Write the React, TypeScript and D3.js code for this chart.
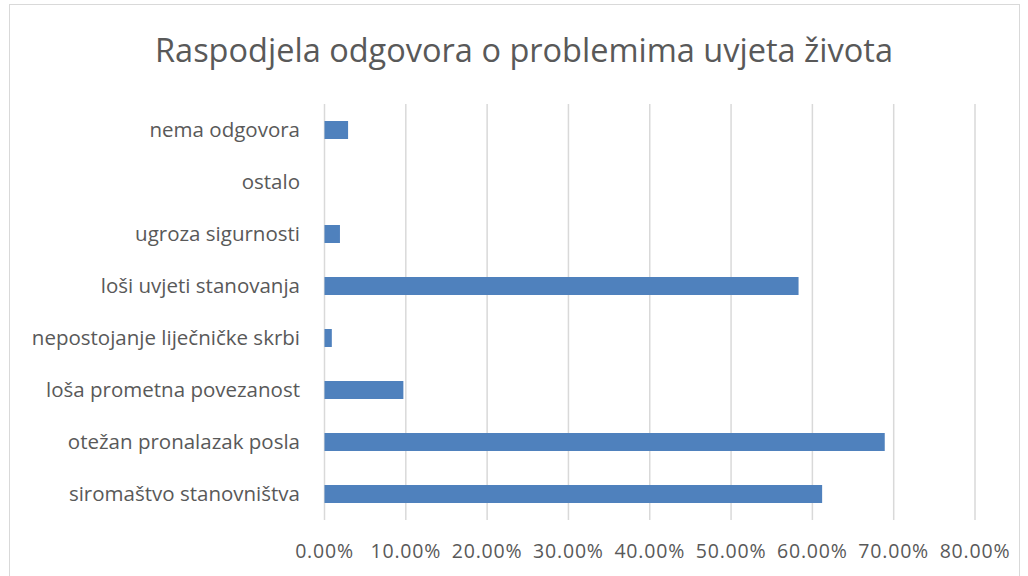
import React from "react";
import * as d3 from "d3";

const categories = [
  "nema odgovora",
  "ostalo",
  "ugroza sigurnosti",
  "loši uvjeti stanovanja",
  "nepostojanje liječničke skrbi",
  "loša prometna povezanost",
  "otežan pronalazak posla",
  "siromaštvo stanovništva",
];
const values = [0.029, 0, 0.019, 0.583, 0.009, 0.097, 0.689, 0.612];
const ticks = [0, 0.1, 0.2, 0.3, 0.4, 0.5, 0.6, 0.7, 0.8];
const title = "Raspodjela odgovora o problemima uvjeta života";

export default function App() {
  const W = 1028, H = 576;
  const x = d3.scaleLinear().domain([0, 0.8]).range([324.5, 975]);
  const y = d3.scaleBand().domain(categories).range([104, 520]).paddingInner(0.654).paddingOuter(0.327);
  const font = "'Open Sans', sans-serif";
  const fmt = d3.format(".2%");
  return (
    <svg width={W} height={H} style={{ position: "absolute", left: 0, top: 0 }} fontFamily={font}>
      <rect x={0} y={0} width={W} height={H} fill="#fff" />
      <rect x={9.5} y={4.5} width={1010} height={600} fill="none" stroke="#d9d9d9" strokeWidth={1} />
      <text x={524} y={62} textAnchor="middle" fontSize={32} fill="#595959" textLength={738} lengthAdjust="spacingAndGlyphs">{title}</text>
      {ticks.map((t) => (
        <line key={"g" + t} x1={x(t)} x2={x(t)} y1={104} y2={520} stroke="#d9d9d9" strokeWidth={1.5} />
      ))}
      {categories.map((c, i) => (
        <rect key={"b" + c} x={x(0)} y={y(c)!} width={x(values[i]) - x(0)} height={y.bandwidth()} fill="#4F81BD" />
      ))}
      {categories.map((c) => (
        <text key={"l" + c} x={300} y={y(c)! + y.bandwidth() / 2} dy="0.35em" textAnchor="end" fontSize={20.5} fill="#595959">{c}</text>
      ))}
      {ticks.map((t) => (
        <text key={"t" + t} x={x(t)} y={551} dy="0.35em" textAnchor="middle" fontSize={19.5} letterSpacing={0.8} fill="#595959">{fmt(t)}</text>
      ))}
    </svg>
  );
}
